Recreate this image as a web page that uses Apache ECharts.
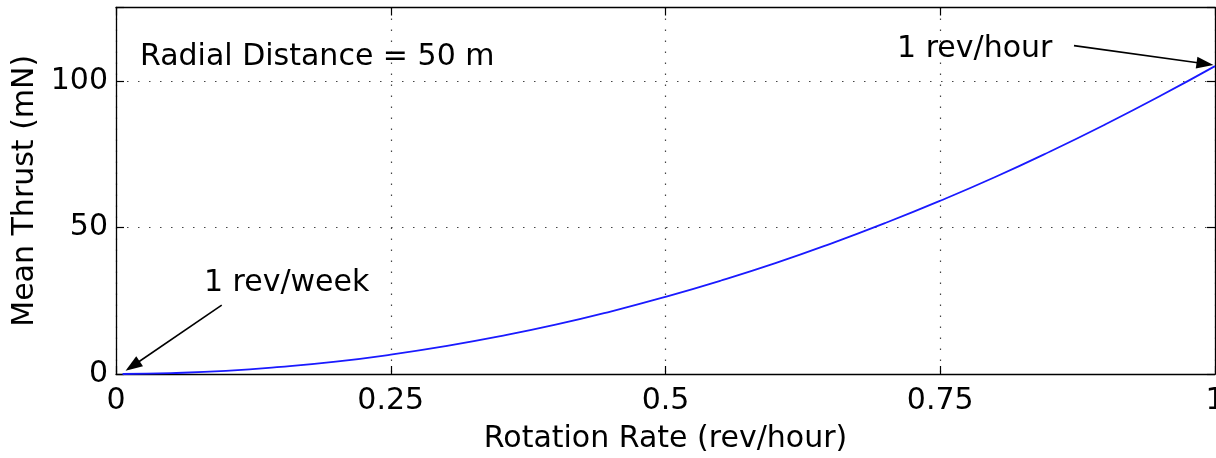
<!DOCTYPE html>
<html>
<head>
<meta charset="utf-8">
<script src="https://cdn.jsdelivr.net/npm/echarts@6/dist/echarts.min.js"></script>
<style>
html,body{margin:0;padding:0;background:#fff;}
#chart{width:1216px;height:458px;}
</style>
</head>
<body>
<div id="chart"></div>
<script>
// Data
const rotationRate = [0.006, 0.05, 0.1, 0.15, 0.2, 0.25, 0.3, 0.35, 0.4, 0.45, 0.5, 0.55, 0.6, 0.65, 0.7, 0.75, 0.8, 0.85, 0.9, 0.95, 1.0];
const meanThrust   = [0.0, 0.3, 1.05, 2.4, 4.2, 6.6, 9.5, 12.9, 16.8, 21.3, 26.3, 31.8, 37.8, 44.4, 51.5, 59.1, 67.2, 75.9, 85.1, 94.8, 105.0];
const xTicks = [0, 0.25, 0.5, 0.75, 1];
const yTicks = [0, 50, 100];
const xName = 'Rotation Rate (rev/hour)';
const yName = 'Mean Thrust (mN)';
const annotationTexts = [
  { text: 'Radial Distance = 50 m', at: [0.0218, 108.2] },
  { text: '1 rev/hour', at: [0.7107, 110.9] },
  { text: '1 rev/week', at: [0.080, 31.1] }
];
const arrows = [
  { from: [0.8717, 112.0], to: [0.9909, 105.8] },
  { from: [0.0962, 23.5], to: [0.0151, 2.73] }
];

const FONT = 'DejaVu Sans';
const FS = 30;

const chart = echarts.init(document.getElementById('chart'), null, { renderer: 'canvas' });

const baseAxisLine = { show: true, onZero: false, lineStyle: { color: '#000', width: 1.3 } };
const tick = { show: true, inside: true, length: 8, lineStyle: { color: '#000', width: 1.2 } };
const dotted = { show: true, lineStyle: { color: '#444', width: 1.2, type: [1.5, 9.5] } };

const option = {
  animation: false,
  backgroundColor: '#fff',
  grid: { left: 116, top: 7.5, right: 1, bottom: 84, containLabel: false, outerBoundsMode: 'none' },
  xAxis: [
    {
      type: 'value', min: 0, max: 1, interval: 0.25, position: 'bottom',
      axisLine: baseAxisLine, axisTick: tick, splitLine: dotted,
      axisLabel: {
        color: '#000', fontFamily: FONT, fontSize: FS, margin: 12,
        formatter: v => xTicks.includes(v) ? String(v) : ''
      },
      name: xName, nameLocation: 'middle', nameGap: 50,
      nameTextStyle: { color: '#000', fontFamily: FONT, fontSize: FS }
    },
    {
      type: 'value', min: 0, max: 1, interval: 0.25, position: 'top',
      axisLine: baseAxisLine, axisTick: tick, splitLine: { show: false },
      axisLabel: { show: false }
    }
  ],
  yAxis: [
    {
      type: 'value', min: 0, max: 125, interval: 50, position: 'left',
      axisLine: baseAxisLine, axisTick: tick,
      splitLine: { show: true, showMaxLine: false, showMinLine: false, lineStyle: dotted.lineStyle },
      axisLabel: {
        color: '#000', fontFamily: FONT, fontSize: FS, margin: 8,
        formatter: v => yTicks.includes(v) ? String(v) : ''
      },
      name: yName, nameLocation: 'middle', nameGap: 68,
      nameTextStyle: { color: '#000', fontFamily: FONT, fontSize: FS }
    },
    {
      type: 'value', min: 0, max: 125, interval: 50, position: 'right',
      axisLine: baseAxisLine, axisTick: tick, splitLine: { show: false },
      axisLabel: { show: false }
    }
  ],
  series: [
    {
      type: 'line',
      data: rotationRate.map((x, i) => [x, meanThrust[i]]),
      smooth: true,
      showSymbol: false,
      lineStyle: { color: '#1a1aff', width: 1.8 },
      markLine: {
        silent: true,
        symbol: ['none', 'triangle'],
        symbolSize: [12, 17],
        label: { show: false },
        lineStyle: { color: '#000', width: 1.6, type: 'solid' },
        itemStyle: { color: '#000' },
        data: arrows.map(a => [{ coord: a.from }, { coord: a.to }])
      }
    }
  ]
};

chart.setOption(option);

const graphics = annotationTexts.map(t => {
  const p = chart.convertToPixel({ gridIndex: 0 }, t.at);
  return {
    type: 'text', x: p[0], y: p[1], silent: true,
    style: { text: t.text, fill: '#000', font: FS + 'px "' + FONT + '"', textAlign: 'left', textVerticalAlign: 'middle' }
  };
});
chart.setOption({ graphic: graphics });
</script>
</body>
</html>
